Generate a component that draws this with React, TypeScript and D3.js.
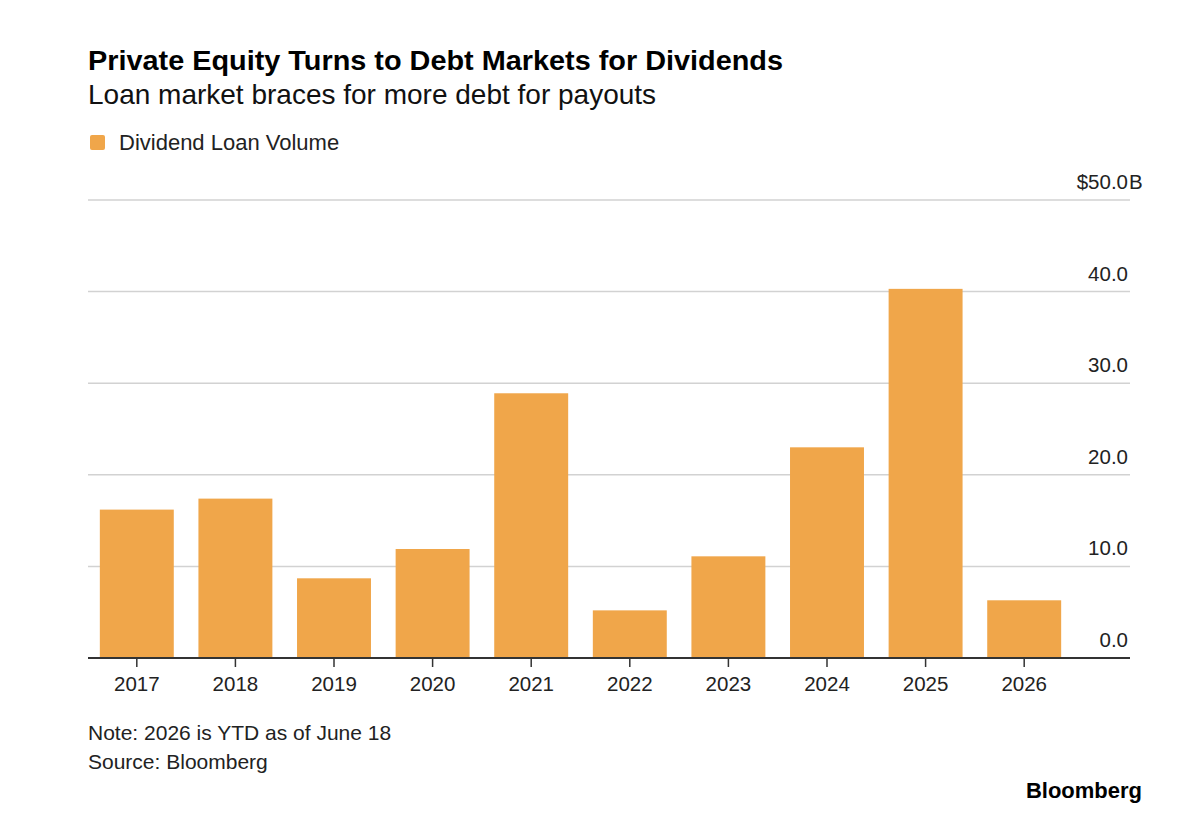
import * as d3 from "d3"

const years = ["2017", "2018", "2019", "2020", "2021", "2022", "2023", "2024", "2025", "2026"]
const loanVolume = [16.2, 17.4, 8.7, 11.9, 28.9, 5.2, 11.1, 23.0, 40.3, 6.3]
const yTicks = [0, 10, 20, 30, 40, 50]

const W = 1200
const H = 830
const BAR = "#f0a64a"
const FONT = "'Liberation Sans', Arial, Helvetica, sans-serif"

export default function App() {
  const x = d3
    .scaleBand<string>()
    .domain(years)
    .range([88, 1073])
    .paddingInner(0.25)
    .paddingOuter(0.12)

  const y = d3.scaleLinear().domain([0, 50]).range([658, 200])

  const gridLeft = 88
  const gridRight = 1130

  return (
    <svg
      width={W}
      height={H}
      style={{ position: "absolute", left: 0, top: 0, background: "#fff" }}
      fontFamily={FONT}
    >
      <rect width={W} height={H} fill="#fff" />

      {/* headline block */}
      <text
        x={88}
        y={70}
        fontSize={27}
        fontWeight="bold"
        fill="#000"
        textLength={695}
        lengthAdjust="spacingAndGlyphs"
      >
        Private Equity Turns to Debt Markets for Dividends
      </text>
      <text x={88} y={104} fontSize={28} fill="#111">
        Loan market braces for more debt for payouts
      </text>

      {/* legend */}
      <rect x={90} y={135} width={15} height={15} rx={2} fill={BAR} />
      <text x={119} y={150} fontSize={22} fill="#222">
        Dividend Loan Volume
      </text>

      {/* gridlines + y labels */}
      {yTicks.map((t) => (
        <g key={t}>
          {t > 0 && (
            <line
              x1={gridLeft}
              x2={gridRight}
              y1={y(t)}
              y2={y(t)}
              stroke="#d2d2d2"
              strokeWidth={1.5}
            />
          )}
          <text x={1128} y={y(t) - 11} fontSize={20.5} fill="#222" textAnchor="end">
            {t === 50 ? "$" + d3.format(".1f")(t) : d3.format(".1f")(t)}
          </text>
          {t === 50 && (
            <text x={1129} y={y(t) - 11} fontSize={20.5} fill="#222">
              B
            </text>
          )}
        </g>
      ))}

      {/* bars */}
      {years.map((yr, i) => (
        <rect
          key={yr}
          x={x(yr)}
          y={y(loanVolume[i])}
          width={x.bandwidth()}
          height={y(0) - y(loanVolume[i])}
          fill={BAR}
        />
      ))}

      {/* baseline + x axis */}
      <line x1={gridLeft} x2={gridRight} y1={y(0)} y2={y(0)} stroke="#333" strokeWidth={2} />
      {years.map((yr) => {
        const cx = (x(yr) || 0) + x.bandwidth() / 2
        return (
          <g key={yr}>
            <line x1={cx} x2={cx} y1={y(0)} y2={y(0) + 9} stroke="#333" strokeWidth={1.5} />
            <text x={cx} y={691} fontSize={20.5} fill="#222" textAnchor="middle">
              {yr}
            </text>
          </g>
        )
      })}

      {/* footnotes */}
      <text x={88} y={740} fontSize={21} fill="#222">
        Note: 2026 is YTD as of June 18
      </text>
      <text x={88} y={769} fontSize={21} fill="#222">
        Source: Bloomberg
      </text>
      <text x={1142} y={798} fontSize={22} fontWeight="bold" fill="#000" textAnchor="end">
        Bloomberg
      </text>
    </svg>
  )
}
